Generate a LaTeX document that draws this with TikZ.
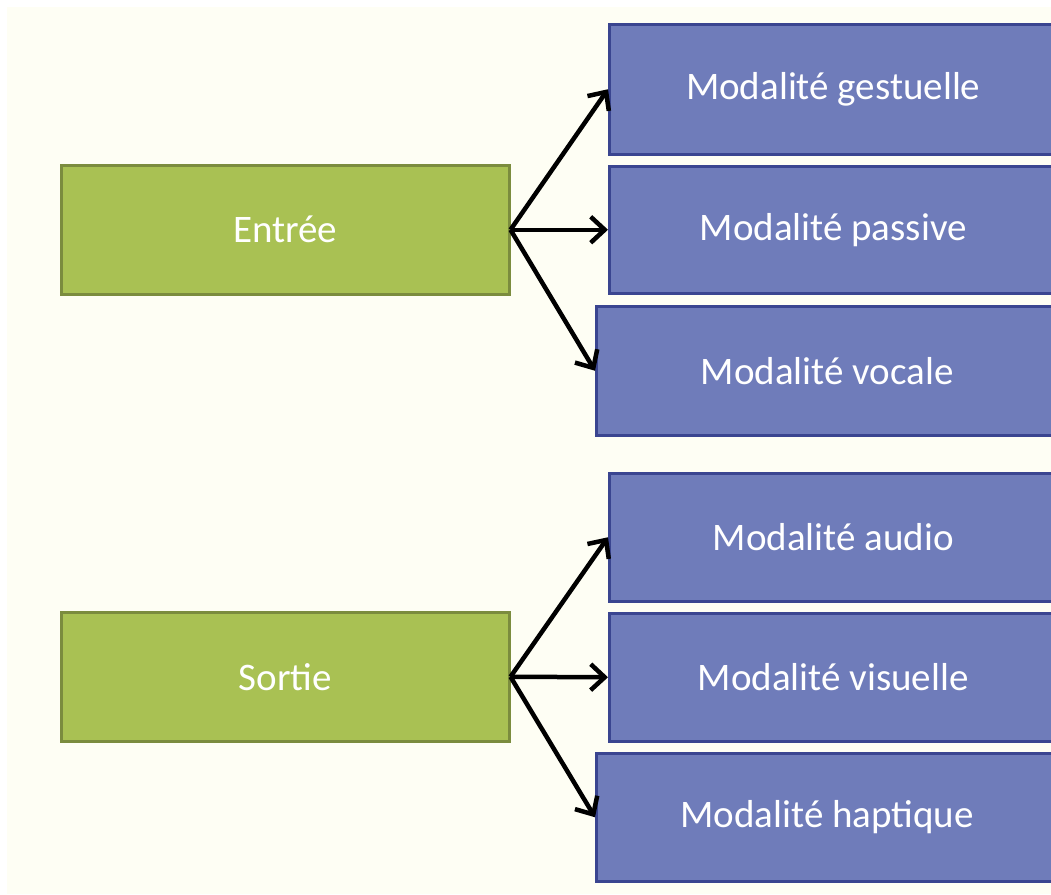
\documentclass[tikz,border=0pt]{standalone}
\usepackage{fontspec}
\setmainfont{Carlito}
\usetikzlibrary{arrows.meta}

\definecolor{fond}{HTML}{FEFEF4}
\definecolor{vert}{HTML}{A9C153}
\definecolor{vertbord}{HTML}{7B8C3E}
\definecolor{bleu}{HTML}{6F7CBA}
\definecolor{bleubord}{HTML}{3A4590}

\tikzset{
  boite/.style={draw, line width=2.5pt, inner sep=0pt, anchor=north west,
    text=white, font=\fontsize{39}{45}\selectfont},
  boiteverte/.style={boite, fill=vert, draw=vertbord},
  boitebleue/.style={boite, fill=bleu, draw=bleubord},
  fleche/.style={line width=4.5pt, -{Straight Barb[length=14pt,width=26pt,line width=4.5pt]}}
}

\begin{document}
\begin{tikzpicture}[x=1pt,y=-1pt]

% Fond
\useasboundingbox (0,0) rectangle (1051,894);
\fill[white] (0,0) rectangle (1051,894);
\fill[fond] (7,7) rectangle (1051,894);
\clip (0,0) rectangle (1051,894);

% Entrées
\node[boiteverte, minimum width=448pt, minimum height=129pt] (entree) at (60,164) {Entrée};
\node[boitebleue, minimum width=448pt, minimum height=130pt] (gest) at (608,23) {Modalité gestuelle};
\node[boitebleue, minimum width=448pt, minimum height=127pt] (passive) at (608,165) {Modalité passive};
\node[boitebleue, minimum width=462pt, minimum height=129pt] (vocale) at (595,305) {Modalité vocale};

% Sorties
\node[boiteverte, minimum width=448pt, minimum height=129pt] (sortie) at (60,611) {Sortie};
\node[boitebleue, minimum width=448pt, minimum height=128pt] (audio) at (608,472) {Modalité audio};
\node[boitebleue, minimum width=448pt, minimum height=128pt] (visuelle) at (608,612) {Modalité visuelle};
\node[boitebleue, minimum width=462pt, minimum height=128pt] (haptique) at (595,752) {Modalité haptique};

% Flèches
\draw[fleche] (entree.east) -- (gest.west);
\draw[fleche] (entree.east) -- (passive.west);
\draw[fleche] (entree.east) -- (vocale.west);

\draw[fleche] (sortie.east) -- (audio.west);
\draw[fleche] (sortie.east) -- (visuelle.west);
\draw[fleche] (sortie.east) -- (haptique.west);

\end{tikzpicture}
\end{document}
